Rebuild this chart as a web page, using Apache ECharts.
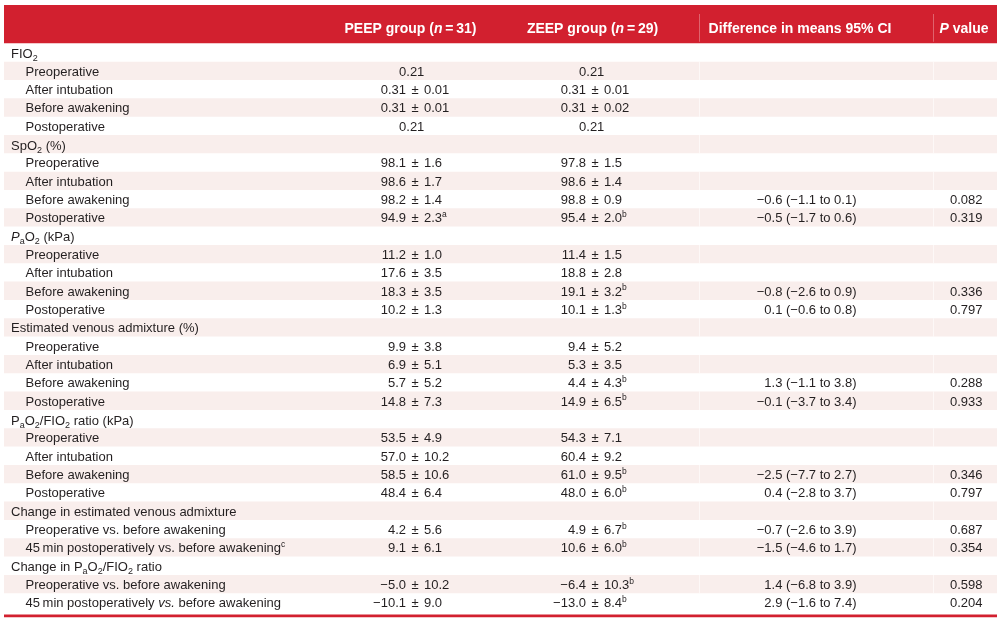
<!DOCTYPE html>
<html><head><meta charset="utf-8">
<script src="https://cdn.jsdelivr.net/npm/echarts@6/dist/echarts.min.js"></script>
<style>html,body{margin:0;padding:0;background:#fff}#c{width:1003px;height:626px}</style>
</head><body><div id="c"></div><script>
// ---------- DATA ----------
const headerLabels = ['PEEP group ({it|n}\u2009=\u200931)', 'ZEEP group ({it|n}\u2009=\u200929)', 'Difference in means 95% CI', '{it|P} value'];
const rowLabels = [
  'FIO{sub|2}', 'Preoperative', 'After intubation', 'Before awakening', 'Postoperative',
  'SpO{sub|2} (%)', 'Preoperative', 'After intubation', 'Before awakening', 'Postoperative',
  '{it|P}{sub|a}O{sub|2} (kPa)', 'Preoperative', 'After intubation', 'Before awakening', 'Postoperative',
  'Estimated venous admixture (%)', 'Preoperative', 'After intubation', 'Before awakening', 'Postoperative',
  'P{sub|a}O{sub|2}/FIO{sub|2} ratio (kPa)', 'Preoperative', 'After intubation', 'Before awakening', 'Postoperative',
  'Change in estimated venous admixture', 'Preoperative vs. before awakening', '45\u2009min postoperatively vs. before awakening{sup|c}',
  'Change in P{sub|a}O{sub|2}/FIO{sub|2} ratio', 'Preoperative vs. before awakening', '45\u2009min postoperatively {it|vs.} before awakening'
];
const groupRows = [0, 5, 10, 15, 20, 25, 28];
const peepValues = [
  '', '0.21', '0.31 ± 0.01', '0.31 ± 0.01', '0.21',
  '', '98.1 ± 1.6', '98.6 ± 1.7', '98.2 ± 1.4', '94.9 ± 2.3',
  '', '11.2 ± 1.0', '17.6 ± 3.5', '18.3 ± 3.5', '10.2 ± 1.3',
  '', '9.9 ± 3.8', '6.9 ± 5.1', '5.7 ± 5.2', '14.8 ± 7.3',
  '', '53.5 ± 4.9', '57.0 ± 10.2', '58.5 ± 10.6', '48.4 ± 6.4',
  '', '4.2 ± 5.6', '9.1 ± 6.1',
  '', '−5.0 ± 10.2', '−10.1 ± 9.0'
];
const peepNotes = ['', '', '', '', '', '', '', '', '', 'a', '', '', '', '', '', '', '', '', '', '', '', '', '', '', '', '', '', '', '', '', ''];
const zeepValues = [
  '', '0.21', '0.31 ± 0.01', '0.31 ± 0.02', '0.21',
  '', '97.8 ± 1.5', '98.6 ± 1.4', '98.8 ± 0.9', '95.4 ± 2.0',
  '', '11.4 ± 1.5', '18.8 ± 2.8', '19.1 ± 3.2', '10.1 ± 1.3',
  '', '9.4 ± 5.2', '5.3 ± 3.5', '4.4 ± 4.3', '14.9 ± 6.5',
  '', '54.3 ± 7.1', '60.4 ± 9.2', '61.0 ± 9.5', '48.0 ± 6.0',
  '', '4.9 ± 6.7', '10.6 ± 6.0',
  '', '−6.4 ± 10.3', '−13.0 ± 8.4'
];
const zeepNotes = ['', '', '', '', '', '', '', '', '', 'b', '', '', '', 'b', 'b', '', '', '', 'b', 'b', '', '', '', 'b', 'b', '', 'b', 'b', '', 'b', 'b'];
const diffValues = [
  '', '', '', '', '',
  '', '', '', '−0.6 (−1.1 to 0.1)', '−0.5 (−1.7 to 0.6)',
  '', '', '', '−0.8 (−2.6 to 0.9)', '0.1 (−0.6 to 0.8)',
  '', '', '', '1.3 (−1.1 to 3.8)', '−0.1 (−3.7 to 3.4)',
  '', '', '', '−2.5 (−7.7 to 2.7)', '0.4 (−2.8 to 3.7)',
  '', '−0.7 (−2.6 to 3.9)', '−1.5 (−4.6 to 1.7)',
  '', '1.4 (−6.8 to 3.9)', '2.9 (−1.6 to 7.4)'
];
const pValues = [
  '', '', '', '', '',
  '', '', '', '0.082', '0.319',
  '', '', '', '0.336', '0.797',
  '', '', '', '0.288', '0.933',
  '', '', '', '0.346', '0.797',
  '', '0.687', '0.354',
  '', '0.598', '0.204'
];

// ---------- STYLE ----------
const FONT = "'Liberation Sans', Arial, Helvetica, sans-serif";
const RED = '#d2202f';
const SHADE = '#f9eeec';
const INK = '#231f20';

function richFor(size, weight, color) {
  return {
    it: { fontSize: size, fontFamily: FONT, fontStyle: 'italic', fontWeight: weight, fill: color, verticalAlign: 'middle' },
    sub: { fontSize: 9, fontFamily: FONT, fontWeight: weight, fill: color, verticalAlign: 'bottom', height: 7 },
    sup: { fontSize: 8.5, fontFamily: FONT, fontWeight: weight, fill: color, verticalAlign: 'top', height: 7 }
  };
}
const bodyRich = richFor(13, 'normal', INK);
const headRich = richFor(14, 'bold', '#ffffff');

function txt(x, y, text, align, opts) {
  opts = opts || {};
  return {
    type: 'text', x: x, y: y, silent: true,
    style: {
      text: text, fontSize: opts.size || 13, fontFamily: FONT, fontWeight: opts.weight || 'normal',
      fill: opts.color || INK, align: align, verticalAlign: 'middle', lineHeight: 15,
      rich: opts.rich || bodyRich
    }
  };
}

// value with "±" aligned on anchor
function pmCell(children, anchor, y, value, note) {
  if (!value) return;
  const noteStr = note ? '{sup|' + note + '}' : '';
  const parts = value.split(' ± ');
  if (parts.length === 2) {
    children.push(txt(anchor - 9, y, parts[0], 'right'));
    children.push(txt(anchor, y, '±', 'center'));
    children.push(txt(anchor + 9, y, parts[1] + noteStr, 'left'));
  } else {
    children.push(txt(anchor - 3.3, y, value + noteStr, 'center'));
  }
}

const COL = { label: 11, sub: 25.5, peep: 415, zeep: 595, diff: 856.5, p: 982.5, sep1: 699, sep2: 933, left: 4, right: 997 };

function renderBody(params, api) {
  const i = api.value(1);
  const c = api.coord([0, i]);
  const h = api.size([0, 1])[1];
  const y = c[1];
  const ty = y + 1.3;
  const X = v => api.coord([v, i])[0];
  const children = [];
  if (i % 2 === 1) {
    children.push({ type: 'rect', silent: true, shape: { x: X(COL.left), y: y - h / 2, width: X(COL.right) - X(COL.left), height: h }, style: { fill: SHADE } });
    children.push({ type: 'rect', silent: true, shape: { x: X(COL.sep1), y: y - h / 2, width: 1, height: h }, style: { fill: 'rgba(255,255,255,0.6)' } });
    children.push({ type: 'rect', silent: true, shape: { x: X(COL.sep2), y: y - h / 2, width: 1, height: h }, style: { fill: 'rgba(255,255,255,0.6)' } });
  }
  const isGroup = groupRows.indexOf(i) >= 0;
  children.push(txt(X(isGroup ? COL.label : COL.sub), ty + (rowLabels[i].indexOf('{sub') >= 0 ? 0.8 : 0), rowLabels[i], 'left'));
  pmCell(children, X(COL.peep), ty, peepValues[i], peepNotes[i]);
  pmCell(children, X(COL.zeep), ty, zeepValues[i], zeepNotes[i]);
  if (diffValues[i]) children.push(txt(X(COL.diff), ty, diffValues[i], 'right'));
  if (pValues[i]) children.push(txt(X(COL.p), ty, pValues[i], 'right'));
  if (i === rowLabels.length - 1) {
    children.push({ type: 'rect', silent: true, shape: { x: X(COL.left), y: y + h / 2 + 3, width: X(COL.right) - X(COL.left), height: 2.6 }, style: { fill: RED } });
  }
  return { type: 'group', children: children };
}

function renderHeader(params, api) {
  const c = api.coord([0, 0]);
  const h = api.size([0, 1])[1];
  const y = c[1];
  const X = v => api.coord([v, 0])[0];
  const top = y - h / 2;
  const ty = top + 24.5;
  const hopt = { size: 14, weight: 'bold', color: '#ffffff', rich: headRich };
  const children = [
    { type: 'rect', silent: true, shape: { x: X(COL.left), y: top, width: X(COL.right) - X(COL.left), height: h }, style: { fill: RED } },
    { type: 'rect', silent: true, shape: { x: X(COL.sep1), y: top + 9, width: 1, height: h - 10.5 }, style: { fill: 'rgba(255,255,255,0.3)' } },
    { type: 'rect', silent: true, shape: { x: X(COL.sep2), y: top + 9, width: 1, height: h - 10.5 }, style: { fill: 'rgba(255,255,255,0.3)' } },
    txt(X(410.5), ty, headerLabels[0], 'center', hopt),
    txt(X(592.5), ty, headerLabels[1], 'center', hopt),
    txt(X(800), ty, headerLabels[2], 'center', hopt),
    txt(X(964), ty, headerLabels[3], 'center', hopt)
  ];
  return { type: 'group', children: children };
}

const chart = echarts.init(document.getElementById('c'), null, { renderer: 'canvas' });
chart.setOption({
  animation: false,
  backgroundColor: '#ffffff',
  grid: [
    { left: 0, width: 1003, top: 43.3, height: 568.3 },
    { left: 0, width: 1003, top: 5, height: 38.3 }
  ],
  xAxis: [
    { type: 'value', min: 0, max: 1003, show: false, gridIndex: 0 },
    { type: 'value', min: 0, max: 1003, show: false, gridIndex: 1 }
  ],
  yAxis: [
    { type: 'category', data: rowLabels, inverse: true, show: false, gridIndex: 0 },
    { type: 'category', data: ['header'], show: false, gridIndex: 1 }
  ],
  series: [
    { type: 'custom', xAxisIndex: 0, yAxisIndex: 0, silent: true, clip: false,
      data: rowLabels.map((_, i) => [0, i]), encode: { x: 0, y: 1 }, renderItem: renderBody },
    { type: 'custom', xAxisIndex: 1, yAxisIndex: 1, silent: true, clip: false,
      data: [[0, 0]], encode: { x: 0, y: 1 }, renderItem: renderHeader }
  ]
});
</script></body></html>
